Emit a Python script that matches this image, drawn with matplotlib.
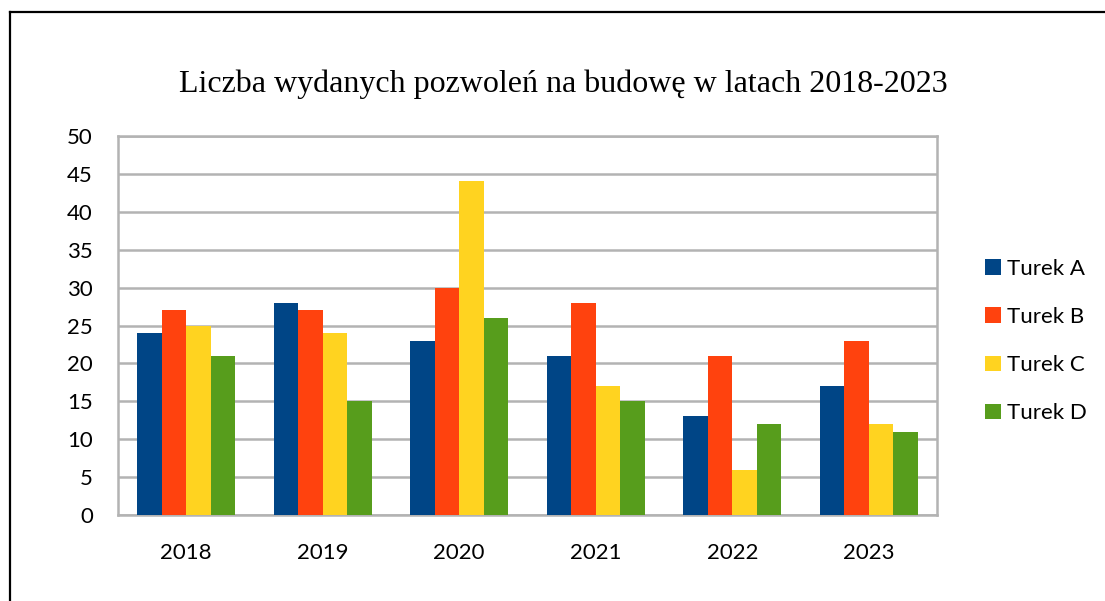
import matplotlib
matplotlib.use("Agg")
import matplotlib.pyplot as plt
import numpy as np
from matplotlib.lines import Line2D

years = ["2018", "2019", "2020", "2021", "2022", "2023"]
series_names = ["Turek A", "Turek B", "Turek C", "Turek D"]
turek_a = [24, 28, 23, 21, 13, 17]
turek_b = [27, 27, 30, 28, 21, 23]
turek_c = [25, 24, 44, 17, 6, 12]
turek_d = [21, 15, 26, 15, 12, 11]
colors = ["#004586", "#ff420e", "#ffd320", "#579d1c"]

W, H = 1105, 601
fig = plt.figure(figsize=(W / 100, H / 100), dpi=100)
fig.patch.set_facecolor("white")

# outer frame (left and top visible)
fig.add_artist(Line2D([10 / W, 10 / W], [0, 1 - 12 / H], transform=fig.transFigure, color="black", lw=1.6))
fig.add_artist(Line2D([10 / W, 1], [1 - 12 / H, 1 - 12 / H], transform=fig.transFigure, color="black", lw=1.6))

left, right, top, bottom = 118, 937, 136, 515
ax = fig.add_axes([left / W, 1 - bottom / H, (right - left) / W, (bottom - top) / H])

x = np.arange(len(years))
bw = 0.18
data = [turek_a, turek_b, turek_c, turek_d]
for i, (vals, name, c) in enumerate(zip(data, series_names, colors)):
    ax.bar(x + (i - 1.5) * bw, vals, bw, color=c, label=name, zorder=3)

ax.set_xlim(-0.5, len(years) - 0.5)
ax.set_ylim(0, 50)
ax.set_yticks(range(0, 51, 5))
ax.set_xticks(x)
ax.set_xticklabels(years)
ax.grid(axis="y", color="#b3b3b3", lw=1.8, zorder=0)
for s in ax.spines.values():
    s.set_color("#b3b3b3")
    s.set_linewidth(1.8)
ax.tick_params(length=0, labelsize=16)
ax.tick_params(axis="y", pad=18)
ax.tick_params(axis="x", pad=20)
for lab in ax.get_xticklabels() + ax.get_yticklabels():
    lab.set_fontfamily("Lato")

fig.text(563 / W, 1 - 84 / H, "Liczba wydanych pozwoleń na budowę w latach 2018-2023",
         ha="center", va="center", fontsize=23, family="Liberation Serif")

leg = fig.legend(loc="center left", bbox_to_anchor=(965 / W, 1 - 341 / H), frameon=False,
                 prop={"family": "Lato", "size": 16}, handlelength=0.7, handleheight=0.7,
                 labelspacing=1.27, handletextpad=0.3)

fig.savefig("out.png", dpi=100)
